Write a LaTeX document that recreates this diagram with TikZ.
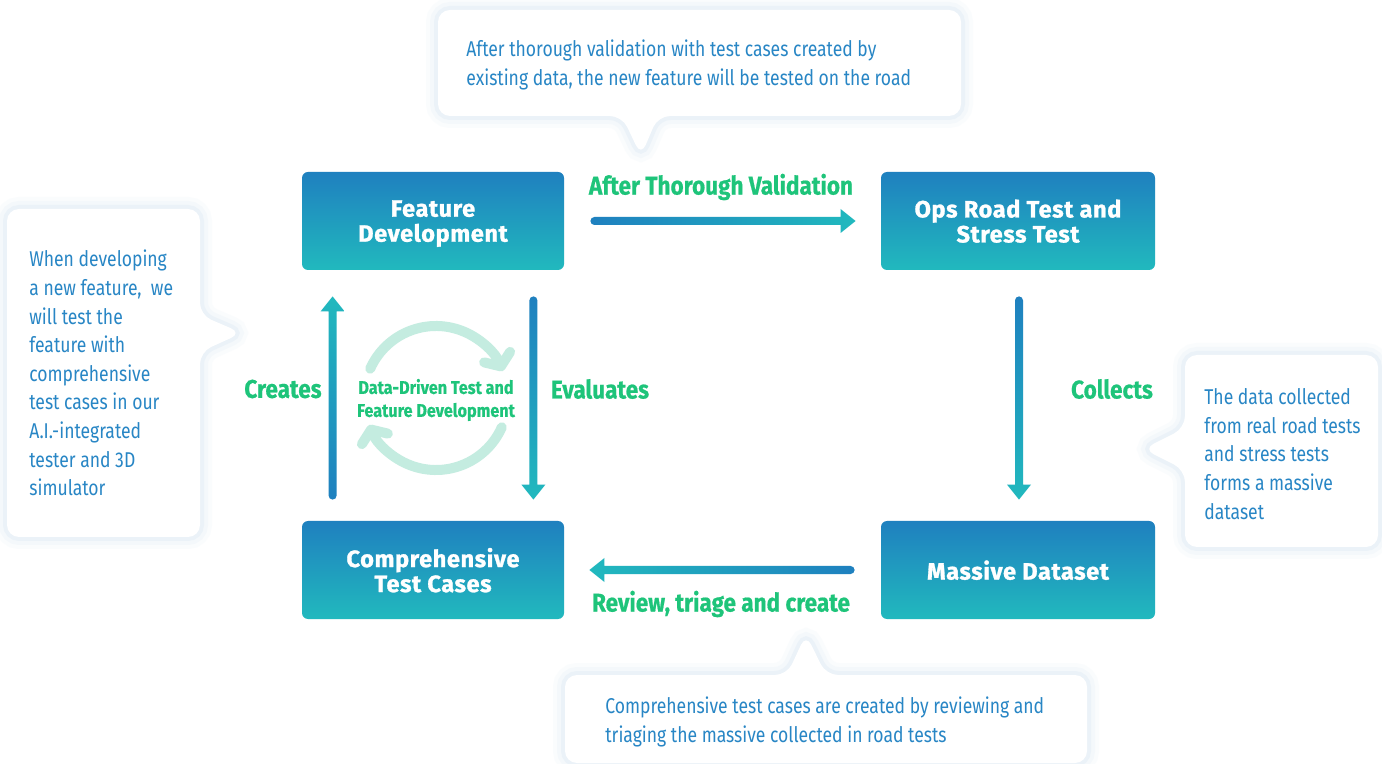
\documentclass[tikz,border=0pt]{standalone}
\usepackage{fontspec}
\setmainfont{Fira Sans}[FakeStretch=0.82]
\newfontfamily\boxfont{Fira Sans}[LetterSpace=2.5, FakeBold=1.2]
\newfontfamily\labelfont{Fira Sans}[FakeStretch=0.88, FakeBold=0.6]
\usetikzlibrary{calc}
\usetikzlibrary{positioning}
\usetikzlibrary{arrows.meta}
\definecolor{boxtop}{RGB}{31,128,191}
\definecolor{boxbot}{RGB}{33,185,190}
\definecolor{flowgreen}{RGB}{30,196,122}
\definecolor{noteblue}{RGB}{40,134,197}
\definecolor{cyclemint}{RGB}{196,236,224}
\definecolor{glow}{RGB}{176,204,232}

% gradient arrow: #1 tail, #2 head, #3 shading, (#4,#5) unit direction
\newcommand{\flowarrow}[5]{%
  \shade[#3]
    ($(#2)+({-15*(#4)-4*(#5)},{-15*(#5)+4*(#4)})$) --
    ($(#2)+({-15*(#4)-12*(#5)},{-15*(#5)+12*(#4)})$) --
    (#2) --
    ($(#2)+({-15*(#4)+12*(#5)},{-15*(#5)-12*(#4)})$) --
    ($(#2)+({-15*(#4)+4*(#5)},{-15*(#5)-4*(#4)})$)
    [rounded corners=2pt] --
    ($(#1)+({4*(#5)},{-4*(#4)})$) --
    ($(#1)+({-4*(#5)},{4*(#4)})$) [sharp corners] -- cycle;}

\begin{document}
\begin{tikzpicture}[x=0.5pt,y=-0.5pt,
    stage/.style={rounded corners=3pt, top color=boxtop, bottom color=boxbot,
      text=white, align=center, minimum height=49pt, inner sep=0pt, text depth=0pt,
      font=\boxfont\bfseries\fontsize{11.8}{12.5}\selectfont},
    flowlabel/.style={text=flowgreen, inner sep=0pt,
      font=\labelfont\bfseries\fontsize{12.8}{14}\selectfont},
    note/.style={fill=white, rounded corners=6pt, line join=round,
      preaction={draw=glow, line width=12pt, opacity=0.05},
      preaction={draw=glow, line width=8pt, opacity=0.07},
      preaction={draw=glow, line width=4pt, opacity=0.12}},
    notetext/.style={text=noteblue, align=left, inner sep=0pt,
      font=\fontsize{10.7}{14.3}\selectfont}]
    \fill[white] (0,0) rectangle (1382,764);
    \useasboundingbox (0,0) rectangle (1382,764);

    % speech bubbles
    \path[note] (438,10) -- (961,10) -- (961,116) -- (658,116) -- (641,156) -- (622,116) -- (438,116) -- cycle;
    \path[note] (7,209) -- (200,209) -- (200,315) -- (242,333) -- (200,352) -- (200,537) -- (7,537) -- cycle;
    \path[note] (1185,355) -- (1378,355) -- (1378,547) -- (1185,547) -- (1185,470) -- (1143,449) -- (1185,428) -- cycle;
    \path[note] (565,675) -- (787,675) -- (806,634) -- (826,675) -- (1087,675) -- (1087,763) -- (565,763) -- cycle;

    \node[notetext, anchor=west] (note-top) at (466,65)
      {After thorough validation with test cases created by\\existing data, the new feature will be tested on the road};
    \node[notetext, anchor=west] (note-left) at (29,373)
      {When developing\\a new feature,\ \ we\\will test the\\feature with\\comprehensive\\test cases in our\\A.I.-integrated\\tester and 3D\\simulator};
    \node[notetext, anchor=west] (note-right) at (1204,454)
      {The data collected\\from real road tests\\and stress tests\\forms a massive\\dataset};
    \node[notetext, anchor=west] (note-bottom) at (605,722)
      {Comprehensive test cases are created by reviewing and\\triaging the massive collected in road tests};

    % stages
    \node[stage, minimum width=131pt] (fd) at (433,221) {Feature\\Development};
    \node[stage, minimum width=137pt] (ops) at (1018,221) {Ops Road Test and\\Stress Test};
    \node[stage, minimum width=131pt] (ctc) at (433,570) {Comprehensive\\Test Cases};
    \node[stage, minimum width=137pt] (md) at (1018,570) {Massive Dataset};

    % arrow ends
    \coordinate (fd-out) at ($(fd.east)+(26,0)$);
    \coordinate (ops-in) at ($(ops.west)+(-25,0)$);
    \coordinate (ops-out) at ($(ops.south)+(1,26)$);
    \coordinate (md-in) at ($(md.north)+(1,-21)$);
    \coordinate (md-out) at ($(md.west)+(-26,0)$);
    \coordinate (ctc-in) at ($(ctc.east)+(25,0)$);
    \coordinate (ctc-out) at ($(ctc.north west)+(31,-21)$);
    \coordinate (fd-in) at ($(fd.south west)+(31,26)$);
    \coordinate (fd-down) at ($(fd.south east)+(-31,26)$);
    \coordinate (ctc-top) at ($(ctc.north east)+(-31,-21)$);

    \flowarrow{fd-out}{ops-in}{left color=boxtop, right color=boxbot}{1}{0}
    \flowarrow{ops-out}{md-in}{top color=boxtop, bottom color=boxbot}{0}{1}
    \flowarrow{md-out}{ctc-in}{left color=boxbot, right color=boxtop}{-1}{0}
    \flowarrow{ctc-out}{fd-in}{top color=boxbot, bottom color=boxtop}{0}{-1}
    \flowarrow{fd-down}{ctc-top}{top color=boxtop, bottom color=boxbot}{0}{1}

    \node[flowlabel] (lbl-top) at (721,187) {After Thorough Validation};
    \node[flowlabel] (lbl-bottom) at (721,604) {Review, triage and create};
    \node[flowlabel] (lbl-creates) at (283,389) {Creates};
    \node[flowlabel] (lbl-eval) at (600,389) {Evaluates};
    \node[flowlabel] (lbl-collects) at (1112,389) {Collects};

    % cycle in the middle
    \coordinate (cyc) at (436,398);
    \draw[cyclemint, line width=5pt, line cap=round,
      -{Straight Barb[length=5pt, width=14pt, round]}]
      ($(cyc)+(-156:72)$) arc[start angle=-156, end angle=-22, radius=72];
    \draw[cyclemint, line width=5pt, line cap=round,
      -{Straight Barb[length=5pt, width=14pt, round]}]
      ($(cyc)+(24:72)$) arc[start angle=24, end angle=158, radius=72];
    \node[text=flowgreen, align=center, inner sep=0pt,
      font=\labelfont\bfseries\fontsize{9.2}{11.5}\selectfont] (cyc-text) at (436,400)
      {Data-Driven Test and\\Feature Development};
\end{tikzpicture}
\end{document}
